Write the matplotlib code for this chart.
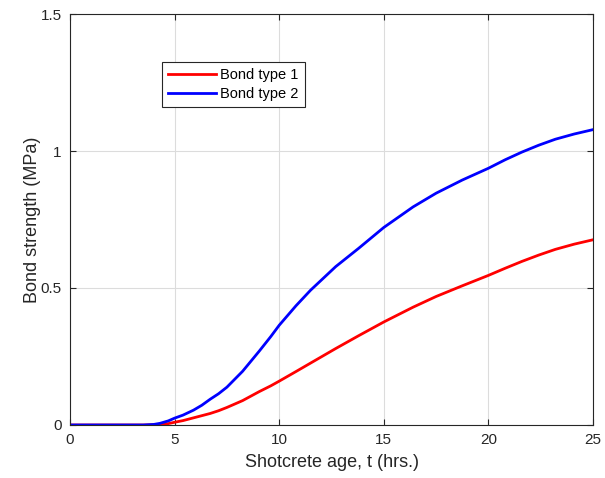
import matplotlib.pyplot as plt
import numpy as np

plt.rcParams['font.family'] = ['Liberation Sans', 'DejaVu Sans']

# values
age = [0, 3.0, 3.5, 4.0, 4.3, 4.7, 5.0, 5.4, 5.9, 6.3, 6.7, 7.1, 7.5, 8.25, 9.05,
       9.6, 10.0, 10.8, 11.5, 12.7, 13.8, 15.0, 16.4, 17.5, 18.75, 20.0, 20.8,
       21.6, 22.4, 23.2, 24.1, 25.0]
bond1 = [0, 0, 0.0, 0.001, 0.002, 0.005, 0.010, 0.016, 0.026, 0.034, 0.042, 0.052,
         0.064, 0.089, 0.122, 0.143, 0.160, 0.195, 0.226, 0.279, 0.326, 0.376,
         0.430, 0.469, 0.508, 0.546, 0.572, 0.597, 0.620, 0.641, 0.660, 0.676]
bond2 = [0, 0, 0.0, 0.002, 0.006, 0.015, 0.025, 0.036, 0.054, 0.072, 0.094, 0.114,
         0.138, 0.196, 0.270, 0.323, 0.364, 0.435, 0.492, 0.578, 0.645, 0.721,
         0.796, 0.846, 0.894, 0.937, 0.968, 0.996, 1.021, 1.043, 1.062, 1.078]

x_ticks = [0, 5, 10, 15, 20, 25]
y_ticks = [0, 0.5, 1, 1.5]
y_labels = ['0', '0.5', '1', '1.5']

fig = plt.figure(figsize=(6.05, 4.78), dpi=100)
ax = fig.add_axes([0.1157, 0.1109, 0.8645, 0.8598])

ax.plot(age, bond1, color='#ff0000', lw=2.0, label='Bond type 1')
ax.plot(age, bond2, color='#0000ff', lw=2.0, label='Bond type 2')

ax.set_xlim(0, 25)
ax.set_ylim(0, 1.5)
ax.set_xticks(x_ticks)
ax.set_yticks(y_ticks)
ax.set_yticklabels(y_labels)
ax.grid(True, color='#dcdcdc', lw=0.8)
ax.set_axisbelow(True)

axis_col = '#262626'
for s in ax.spines.values():
    s.set_color(axis_col)
    s.set_linewidth(0.8)
ax.tick_params(direction='in', top=True, right=True, length=4, width=0.8,
               colors=axis_col, labelsize=11, labelcolor='#262626', pad=6)

ax.set_xlabel('Shotcrete age, t (hrs.)', fontsize=13, color='#262626', labelpad=5)
ax.set_ylabel('Bond strength (MPa)', fontsize=13, color='#262626', labelpad=0)

leg = ax.legend(loc='upper left', bbox_to_anchor=(0.176, 0.883), fontsize=10.5,
                frameon=True, fancybox=False, framealpha=1, edgecolor='#262626',
                handlelength=3.3, handletextpad=0.3, borderpad=0.4,
                labelspacing=0.38, borderaxespad=0)
leg.get_frame().set_linewidth(0.8)

fig.savefig('out.png', dpi=100)
